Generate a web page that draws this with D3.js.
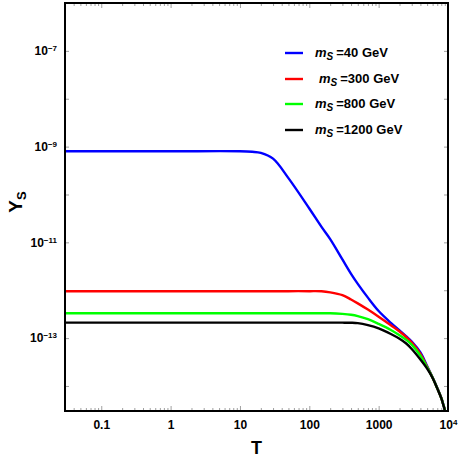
<!DOCTYPE html>
<html>
<head>
<meta charset="utf-8">
<script src="https://cdn.jsdelivr.net/npm/d3@7"></script>
<style>
  body { margin: 0; background: #fff; }
  text { font-family: "Liberation Sans", Arial, sans-serif; font-weight: bold; fill: #000; }
</style>
</head>
<body>
<svg id="chart"></svg>
<script>
// temperature grid (T) shared by all curves
const tValues = [0.03, 1, 10, 15, 20, 30, 50, 100, 150, 200, 300, 400, 500, 700, 1000, 1500, 2000, 2500, 3000, 4000, 5000, 6000, 7000, 8000, 8500, 9000, 9500];

// Y_S for every mass
const ys40 = [8.0e-10, 8.0e-10, 8.0e-10, 7.8e-10, 7.4e-10, 5.6e-10, 2.2e-10, 5.1e-11, 2.1e-11, 1.17e-11, 4.4e-12, 2.2e-12, 1.36e-12, 7.0e-13, 3.67e-13, 2.08e-13, 1.44e-13, 1.08e-13, 8.45e-14, 5.0e-14, 2.61e-14, 1.5e-14, 9.1e-15, 5.65e-15, 4.25e-15, 3.1e-15, 1.3e-15];
const ys300 = [9.55e-13, 9.55e-13, 9.55e-13, 9.55e-13, 9.55e-13, 9.55e-13, 9.55e-13, 9.55e-13, 9.5e-13, 9.04e-13, 7.9e-13, 6.4e-13, 5.32e-13, 3.94e-13, 2.79e-13, 1.85e-13, 1.37e-13, 1.05e-13, 8.05e-14, 4.66e-14, 2.51e-14, 1.49e-14, 9.0e-15, 5.6e-15, 4.2e-15, 3.1e-15, 1.3e-15];
const ys800 = [3.3e-13, 3.3e-13, 3.3e-13, 3.3e-13, 3.3e-13, 3.3e-13, 3.3e-13, 3.3e-13, 3.3e-13, 3.3e-13, 3.2e-13, 3.07e-13, 2.88e-13, 2.48e-13, 1.98e-13, 1.48e-13, 1.15e-13, 9.2e-14, 7.3e-14, 4.27e-14, 2.44e-14, 1.48e-14, 8.95e-15, 5.6e-15, 4.2e-15, 3.1e-15, 1.3e-15];
const ys1200 = [2.1e-13, 2.1e-13, 2.1e-13, 2.1e-13, 2.1e-13, 2.1e-13, 2.1e-13, 2.1e-13, 2.1e-13, 2.1e-13, 2.1e-13, 2.09e-13, 2.05e-13, 1.87e-13, 1.60e-13, 1.22e-13, 9.7e-14, 7.7e-14, 5.9e-14, 3.56e-14, 2.3e-14, 1.47e-14, 8.9e-15, 5.55e-15, 4.15e-15, 3.05e-15, 1.3e-15];

const seriesLabels = ["=40 GeV", "=300 GeV", "=800 GeV", "=1200 GeV"];
const seriesColors = ["#0000ff", "#ff0000", "#00ff00", "#000000"];

// tick labels
const xTicks = [0.1, 1, 10, 100, 1000, 10000];
const xTickLabels = ["0.1", "1", "10", "100", "1000", "10^4"];
const yTicks = [1e-14, 1e-13, 1e-12, 1e-11, 1e-10, 1e-9, 1e-8, 1e-7, 1e-6];
const yLabelExps = [-7, -9, -11, -13];

const width = 458, height = 458;
const margin = {top: 3, right: 10, bottom: 47, left: 65};

const svg = d3.select('#chart')
  .attr('width', width)
  .attr('height', height);

const x = d3.scaleLog()
  .domain([0.03, 10000])
  .range([margin.left, width - margin.right]);

const y = d3.scaleLog()
  .domain([3e-15, 1e-6])
  .range([height - margin.bottom, margin.top]);

// minor ticks on T, 2..9 in every decade
let xMinor = [];
for (let e = -2; e <= 3; e++) {
  for (let k = 2; k <= 9; k++) {
    const v = k * Math.pow(10, e);
    if (v >= 0.03 && v <= 10000) xMinor.push(v);
  }
}

const plotBottom = height - margin.bottom;
const plotRight = width - margin.right;

// axes: ticks point inside the frame
const gBottom = svg.append('g')
  .attr('transform', `translate(0, ${plotBottom})`)
  .call(d3.axisBottom(x).tickValues(xTicks).tickSizeInner(-5).tickSizeOuter(0).tickPadding(9)
    .tickFormat((d, i) => xTickLabels[i]));
svg.append('g')
  .attr('transform', `translate(0, ${plotBottom})`)
  .call(d3.axisBottom(x).tickValues(xMinor).tickSizeInner(-3).tickSizeOuter(0).tickFormat(''));
svg.append('g')
  .attr('transform', `translate(0, ${margin.top})`)
  .call(d3.axisTop(x).tickValues(xTicks).tickSizeInner(-5).tickSizeOuter(0).tickFormat(''));
svg.append('g')
  .attr('transform', `translate(0, ${margin.top})`)
  .call(d3.axisTop(x).tickValues(xMinor).tickSizeInner(-3).tickSizeOuter(0).tickFormat(''));

const gLeft = svg.append('g')
  .attr('transform', `translate(${margin.left}, 0)`)
  .call(d3.axisLeft(y).tickValues(yTicks).tickSizeInner(-4).tickSizeOuter(0).tickPadding(8)
    .tickFormat(d => {
      const e = Math.round(Math.log10(d));
      return yLabelExps.includes(e) ? '10^' + e : '';
    }));
svg.append('g')
  .attr('transform', `translate(${plotRight}, 0)`)
  .call(d3.axisRight(y).tickValues(yTicks).tickSizeInner(-4).tickSizeOuter(0).tickFormat(''));

svg.selectAll('.domain').remove();
svg.selectAll('.tick line').attr('stroke', '#888').attr('stroke-width', 0.8);

// turn "10^e" into base + superscript
function superscript(sel) {
  sel.each(function() {
    const t = d3.select(this);
    const s = t.text();
    if (s.indexOf('^') < 0) return;
    const parts = s.split('^');
    t.text(null);
    t.append('tspan').text(parts[0]);
    t.append('tspan').attr('dy', '-0.5em').style('font-size', '8px')
      .text(parts[1].replace('-', '\u2212'));
  });
}

gBottom.selectAll('text')
  .style('font-size', '12px')
  .style('font-family', '"Liberation Sans", Arial, sans-serif')
  .style('font-weight', 'bold')
  .attr('fill', '#000')
  .call(superscript);
gLeft.selectAll('text')
  .style('font-size', '12px')
  .style('font-family', '"Liberation Sans", Arial, sans-serif')
  .style('font-weight', 'bold')
  .attr('fill', '#000')
  .call(superscript);

// clip for the curves
svg.append('clipPath').attr('id', 'plotClip')
  .append('rect')
  .attr('x', margin.left).attr('y', margin.top)
  .attr('width', plotRight - margin.left)
  .attr('height', plotBottom - margin.top);

const line = d3.line()
  .x(d => x(d[0]))
  .y(d => y(d[1]))
  .curve(d3.curveCatmullRom.alpha(0.5));

const allSeries = [ys40, ys300, ys800, ys1200];
svg.append('g').attr('clip-path', 'url(#plotClip)')
  .selectAll('path')
  .data(allSeries)
  .enter().append('path')
  .attr('d', vals => line(tValues.map((t, i) => [t, vals[i]])))
  .attr('fill', 'none')
  .attr('stroke', (d, i) => seriesColors[i])
  .attr('stroke-width', 2.4);

// frame
svg.append('rect')
  .attr('x', margin.left).attr('y', margin.top)
  .attr('width', plotRight - margin.left)
  .attr('height', plotBottom - margin.top)
  .attr('fill', 'none')
  .attr('stroke', '#000')
  .attr('stroke-width', 2);

// axis titles
svg.append('text')
  .attr('x', (margin.left + plotRight) / 2)
  .attr('y', 454)
  .attr('text-anchor', 'middle')
  .style('font-size', '18px')
  .text('T');

const yTitle = svg.append('text')
  .attr('transform', `translate(22, 202) rotate(-90)`)
  .attr('text-anchor', 'middle')
  .style('font-size', '19px');
yTitle.append('tspan').text('Y');
yTitle.append('tspan').attr('dy', 4).style('font-size', '13px').text('S');

// legend
const legend = svg.append('g');
const legendY = [53, 79, 104, 130];
seriesLabels.forEach((lab, i) => {
  legend.append('line')
    .attr('x1', 285).attr('x2', 303)
    .attr('y1', legendY[i]).attr('y2', legendY[i])
    .attr('stroke', seriesColors[i])
    .attr('stroke-width', 2.4);
  const txt = legend.append('text')
    .attr('x', i === 1 ? 319 : 315)
    .attr('y', legendY[i] + 4)
    .style('font-size', '13px');
  txt.append('tspan').style('font-style', 'italic').text('m');
  txt.append('tspan').attr('dy', 3).style('font-style', 'italic').style('font-size', '10px').text('S');
  txt.append('tspan').attr('dy', -3).attr('dx', 3).text(lab);
});
</script>
</body>
</html>
